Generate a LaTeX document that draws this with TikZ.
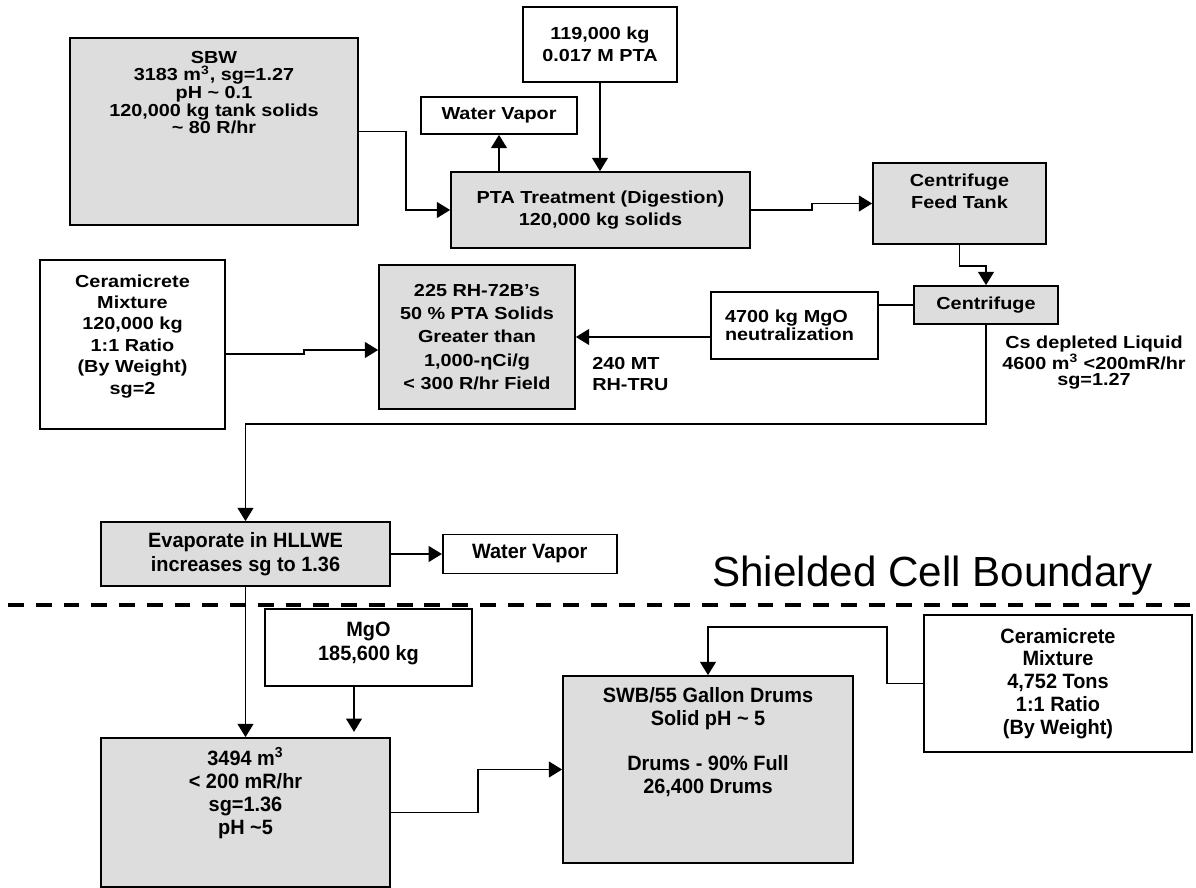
\documentclass[tikz,border=0pt]{standalone}
\usepackage{fontspec}
\setmainfont{Liberation Sans}
\newfontfamily\upfont[FakeStretch=1.14]{Liberation Sans}
\newfontfamily\lowfont[FakeStretch=0.96]{Liberation Sans}
\usepackage{xcolor}
\usetikzlibrary{arrows.meta, positioning, calc}
\definecolor{boxgray}{RGB}{221,221,221}
\newcommand{\tld}{\textasciitilde}

\begin{document}
\begin{tikzpicture}[
    box/.style={rectangle, draw, line width=1pt, fill=white, align=center},
    gbox/.style={box, fill=boxgray},
    uptxt/.style={font=\upfont\fontsize{9.9}{#1}\selectfont\bfseries},
    lowtxt/.style={font=\lowfont\fontsize{11.8}{#1}\selectfont\bfseries},
    toptext/.style={anchor=north, inner sep=0pt, align=center},
    arrow/.style={line width=0.75pt, ->, >={Triangle[length=7.5pt, width=9pt]}},
    link/.style={line width=0.75pt}
]
    \useasboundingbox (0,0) rectangle (23.92,-17.76);

    % inside the shielded cell
    \node [gbox, minimum width=5.76cm, minimum height=3.74cm] (sbw) at (4.28,-2.63) {};
    \node [toptext, uptxt=10, below=7.8pt of sbw.north] (sbwtext) {SBW\\3183 m\textsuperscript{3}, sg=1.27\\pH \tld{} 0.1\\120,000 kg tank solids\\\tld{} 80 R/hr};
    \node [box, uptxt=12.5, minimum width=3.08cm, minimum height=1.5cm] (pta) at (12.00,-0.89) {119,000 kg\\0.017 M PTA};
    \node [box, uptxt=12.5, minimum width=3.12cm, minimum height=0.74cm] (vapor1) at (9.98,-2.31) {Water Vapor};
    \node [gbox, uptxt=12.5, minimum width=5.98cm, minimum height=1.52cm] (digest) at (12.01,-4.20) {PTA Treatment (Digestion)\\120,000 kg solids};
    \node [gbox, minimum width=3.46cm, minimum height=1.62cm] (feed) at (19.19,-4.07) {};
    \node [toptext, uptxt=12.5, below=6.5pt of feed.north] (feedtext) {Centrifuge\\Feed Tank};

    \node [box, minimum width=3.70cm, minimum height=3.38cm] (cera) at (2.65,-6.89) {};
    \node [toptext, uptxt=12.2, below=8.5pt of cera.north] (ceratext) {Ceramicrete\\Mixture\\120,000 kg\\1:1 Ratio\\(By Weight)\\sg=2};
    \node [gbox, uptxt=13.3, minimum width=3.92cm, minimum height=2.88cm] (rh) at (9.54,-6.74) {225 RH-72B’s\\50 \% PTA Solids\\Greater than\\1,000-ηCi/g\\< 300 R/hr Field};
    \node [box, uptxt=8.9, align=left, text width=2.78cm, inner xsep=0.28cm, minimum height=1.34cm] (mgo) at (15.89,-6.51) {4700 kg MgO\\neutralization};
    \node [gbox, uptxt=12.5, minimum width=2.88cm, minimum height=0.76cm] (centri) at (19.72,-6.10) {Centrifuge};
    \node [uptxt=12.5, align=left, anchor=west, inner sep=0pt] (rhtru) at (11.84,-7.48) {240 MT\\RH-TRU};
    \node [uptxt=9.5, align=center, inner sep=0pt] (liquid) at (21.88,-7.26) {Cs depleted Liquid\\4600 m\textsuperscript{3} <200mR/hr\\sg=1.27};

    \node [gbox, lowtxt=13.6, minimum width=5.78cm, minimum height=1.28cm] (evap) at (4.91,-11.08) {Evaporate in HLLWE\\increases sg to 1.36};
    \node [box, lowtxt=13, minimum width=3.48cm, minimum height=0.78cm, right=1.02cm of evap] (vapor2) {Water Vapor};

    % boundary
    \node [font=\fontsize{24}{28}\selectfont, anchor=base west, inner sep=0pt] (boundary) at (14.24,-11.72) {Shielded Cell Boundary};
    \draw [line width=2.5pt, dash pattern=on 9pt off 6.8pt] (0.16,-12.10) -- (23.92,-12.10);

    % outside the cell
    \node [box, minimum width=4.14cm, minimum height=1.54cm] (mgob) at (7.37,-12.95) {};
    \node [toptext, lowtxt=13.6, below=7.8pt of mgob.north] (mgobtext) {MgO\\185,600 kg};
    \node [gbox, minimum width=5.78cm, minimum height=2.98cm] (waste) at (4.91,-16.25) {};
    \node [toptext, lowtxt=13.2, below=5.7pt of waste.north] (wastetext) {3494 m\textsuperscript{3}\\< 200 mR/hr\\sg=1.36\\pH \tld5};
    \node [gbox, minimum width=5.80cm, minimum height=3.74cm] (drums) at (14.16,-15.39) {};
    \node [toptext, lowtxt=13, below=6.8pt of drums.north] (drumstext) {SWB/55 Gallon Drums\\Solid pH \tld{} 5\\[13pt]Drums - 90\% Full\\26,400 Drums};
    \node [box, lowtxt=13, minimum width=5.36cm, minimum height=2.74cm] (cerb) at (21.16,-13.67) {Ceramicrete\\Mixture\\4,752 Tons\\1:1 Ratio\\(By Weight)};

    \draw [arrow] (sbw.east) -- ++(0.94,0) |- (digest.west);
    \draw [arrow] (vapor1.south |- digest.north) -- (vapor1.south);
    \draw [arrow] (pta.south) -- (pta.south |- digest.north);
    \draw [arrow] (digest.east) -- ++(1.22,0) |- (feed.west);
    \draw [arrow] (feed.south) -- ++(0,-0.42) -| (centri.north);
    \draw [link] (centri.west) -- (mgo.east |- centri.west);
    \draw [arrow] (mgo.west |- rh.east) -- (rh.east);
    \draw [arrow] ([yshift=-0.19cm]cera.east) -- ++(1.56,0) |- ([yshift=-0.26cm]rh.west);
    \draw [arrow] (centri.south) -- ++(0,-1.98) -| (evap.north);
    \draw [arrow] (evap.east |- vapor2.west) -- (vapor2.west);
    \draw [arrow] (evap.south) -- (waste.north);
    \draw [arrow, shorten >=3pt] ([xshift=-0.29cm]mgob.south) -- ([xshift=-0.29cm]mgob.south |- waste.north);
    \draw [arrow] (waste.east) -- ++(1.74,0) |- (drums.west);
    \draw [arrow] (cerb.west) -- ++(-0.72,0) |- ([yshift=0.96cm]drums.north) -- (drums.north);
\end{tikzpicture}
\end{document}
